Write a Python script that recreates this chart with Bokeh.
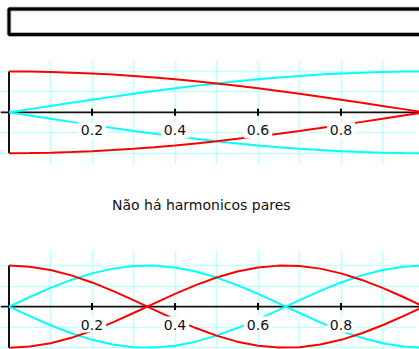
import math
from bokeh.plotting import figure
from bokeh.layouts import column
from bokeh.models import Range1d, FixedTicker, Span
from bokeh.core.properties import value
from bokeh.embed import file_html
from bokeh.resources import INLINE

# ---- data ----
x_vals = [0.00, 0.05, 0.10, 0.15, 0.20, 0.25, 0.30, 0.35, 0.40, 0.45, 0.50,
          0.55, 0.60, 0.65, 0.70, 0.75, 0.80, 0.85, 0.90, 0.95, 1.00]
# upper plot: fundamental (red falls from 1 to 0, cyan rises from 0 to 1)
fund_red = [1.000, 0.997, 0.988, 0.972, 0.951, 0.924, 0.891, 0.853, 0.809, 0.760, 0.707,
            0.649, 0.588, 0.522, 0.454, 0.383, 0.309, 0.233, 0.156, 0.079, 0.000]
fund_cyan = [0.000, 0.079, 0.156, 0.233, 0.309, 0.383, 0.454, 0.522, 0.588, 0.649, 0.707,
             0.760, 0.809, 0.853, 0.891, 0.924, 0.951, 0.972, 0.988, 0.997, 1.000]
# lower plot: third harmonic
third_red = [1.000, 0.972, 0.891, 0.760, 0.588, 0.383, 0.156, -0.079, -0.309, -0.522, -0.707,
             -0.853, -0.951, -0.997, -0.988, -0.924, -0.809, -0.649, -0.454, -0.233, 0.000]
third_cyan = [0.000, 0.233, 0.454, 0.649, 0.809, 0.924, 0.988, 0.997, 0.951, 0.853, 0.707,
              0.522, 0.309, 0.079, -0.156, -0.383, -0.588, -0.760, -0.891, -0.972, -1.000]

tick_vals = [0.2, 0.4, 0.6, 0.8, 1.0]
tick_labels = ["0.2", "0.4", "0.6", "0.8", "1"]
grid_x = [0.1, 0.2, 0.3, 0.4, 0.5, 0.6, 0.7, 0.8, 0.9, 1.0]
grid_y = [-1.0, -0.5, 0.5, 1.0]
caption = "Não há harmonicos pares"

# ---- styles ----
RED = "#ff0000"
CYAN = "#00ffff"
GRIDC = "#c4ffff"
FONT = value("DejaVu Sans")

W = 419
PX = 415.0
X0 = -8.5 / PX
XR = (X0, X0 + W / PX)


def bare(height, xr, yr):
    p = figure(width=W, height=height, x_range=Range1d(*xr), y_range=Range1d(*yr),
               x_axis_location=None, y_axis_location=None, toolbar_location=None,
               output_backend="svg", min_border=0, outline_line_color=None)
    return p


def wave_fig(height, top_px, unit_px, red, cyan):
    end = 1 + top_px / unit_px
    start = end - height / unit_px
    p = bare(height, XR, (start, end))
    p.xgrid.ticker = FixedTicker(ticks=grid_x)
    p.ygrid.ticker = FixedTicker(ticks=grid_y)
    p.grid.grid_line_color = GRIDC
    p.grid.grid_line_width = 1.7
    p.add_layout(Span(location=0, dimension="width", line_color="#111111",
                      line_width=1.7, level="underlay"))
    ymax = max(max(red), max(cyan))
    p.line([x_vals[0], x_vals[0]], [-ymax, ymax], line_color="#111111", line_width=2)
    neg = lambda a: [-v for v in a]
    for ys, c in ((cyan, CYAN), (neg(cyan), CYAN), (red, RED), (neg(red), RED)):
        p.line(x_vals, ys, line_color=c, line_width=2)
    zeros = [0] * len(tick_vals)
    p.scatter(tick_vals, zeros, marker="dash", size=7, angle=math.pi / 2,
              line_color="black", line_width=2)
    p.text(tick_vals, zeros, text=tick_labels, text_align="center",
           text_baseline="alphabetic", y_offset=18, text_font=FONT,
           text_font_size="14px", text_color="#111111",
           background_fill_color="white", padding=3)
    return p


# title box
f0 = bare(60, (0, W), (60, 0))
f0.grid.visible = False
f0.quad(left=[8.5], right=[W + 30], top=[8.5], bottom=[34], fill_color=None,
        line_color="#999999", line_width=4.5)
f0.quad(left=[8.5], right=[W + 30], top=[8.5], bottom=[34], fill_color=None,
        line_color="black", line_width=2.8)

f1 = wave_fig(104, 11, 40.85, fund_red, fund_cyan)

f2 = bare(86, (0, W), (86, 0))
f2.grid.visible = False
f2.text([200.8], [40], text=[caption], text_align="center", text_baseline="alphabetic",
        text_font=FONT, text_font_size="14px", text_color="#111111")

f3 = wave_fig(99, 15, 41.1, third_red, third_cyan)

layout = column(f0, f1, f2, f3, spacing=0)
open("out.html", "w").write(file_html(layout, INLINE))
